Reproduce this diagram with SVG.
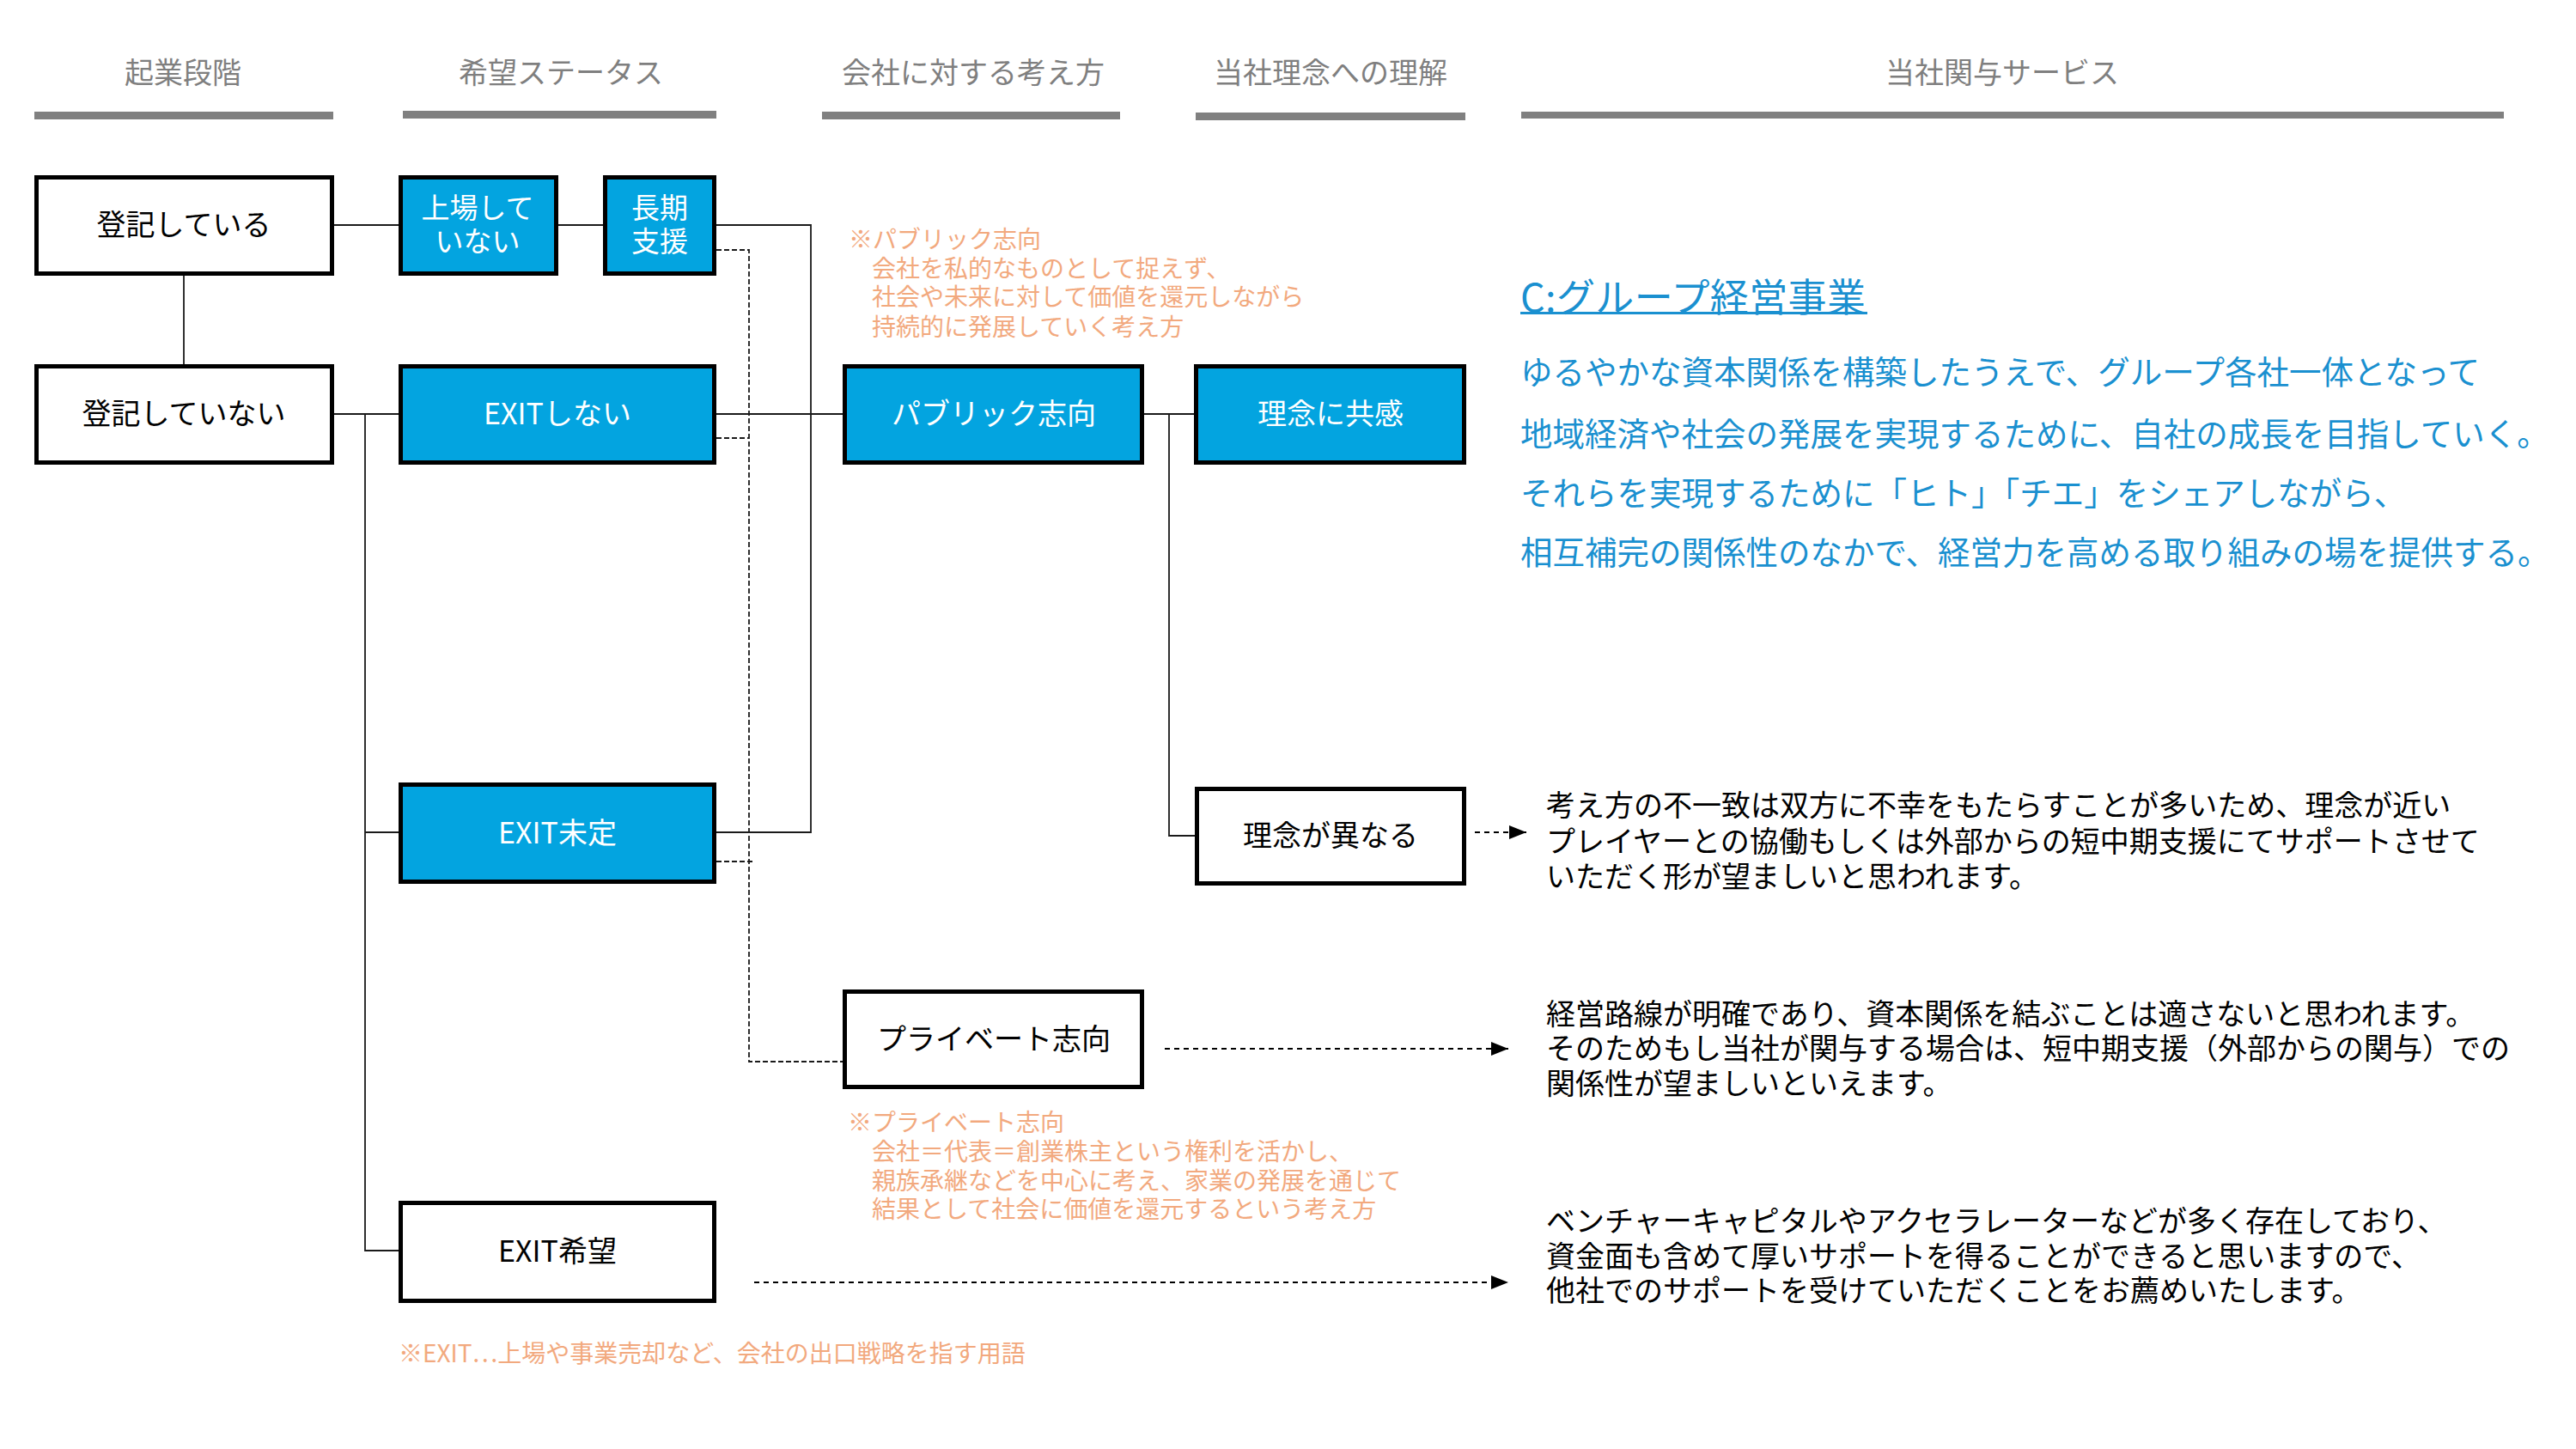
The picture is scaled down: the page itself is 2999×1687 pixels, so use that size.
<svg xmlns="http://www.w3.org/2000/svg" width="2999" height="1687" viewBox="0 0 2999 1687">
<defs>
<style>
text{font-family:"Noto Sans CJK JP","Noto Sans",sans-serif;dominant-baseline:central}
.hd{font-size:34px;fill:#7f7f7f;text-anchor:middle}
.bar{fill:#808080}
.bw{fill:#ffffff;stroke:#000;stroke-width:5}
.bb{fill:#03a4e0;stroke:#000;stroke-width:5}
.lb{font-size:34px;fill:#000;text-anchor:middle}
.lw{font-size:34px;fill:#fff;text-anchor:middle}
.lw2{font-size:33px;fill:#fff;text-anchor:middle}
.sol{fill:none;stroke:#1a1a1a;stroke-width:1.8}
.dsh{fill:none;stroke:#1a1a1a;stroke-width:1.8;stroke-dasharray:6 3}
.arw{fill:none;stroke:#000;stroke-width:2;stroke-dasharray:6 5}
.nt{font-size:28px;fill:#f2a97e}
.bl{font-size:37.5px;fill:#1a90d0}
.tt{font-size:45px;fill:#1a90d0}
.tx{font-size:34px;fill:#000}
.fw{font-feature-settings:"fwid"}
</style>
<marker id="arr" viewBox="0 0 20 16" refX="20" refY="8" markerWidth="20" markerHeight="16" markerUnits="userSpaceOnUse" orient="auto">
<path d="M0,0 L20,8 L0,16 z" fill="#000"/>
</marker>
</defs>
<rect width="2999" height="1687" fill="#ffffff"/>

<g id="headers">
<text class="hd" x="213" y="82">起業段階</text>
<rect class="bar" x="40" y="130" width="348" height="9"/>
<text class="hd" x="653" y="82">希望ステータス</text>
<rect class="bar" x="469" y="129" width="365" height="9"/>
<text class="hd" x="1133" y="82">会社に対する考え方</text>
<rect class="bar" x="957" y="130" width="347" height="9"/>
<text class="hd" x="1549" y="82">当社理念への理解</text>
<rect class="bar" x="1392" y="131" width="314" height="9"/>
<text class="hd" x="2331" y="82">当社関与サービス</text>
<rect class="bar" x="1771" y="130" width="1144" height="8"/>
</g>

<g id="connectors">
<path class="sol" d="M389,262 H464"/>
<path class="sol" d="M649,262 H702"/>
<path class="sol" d="M834,262 H944 V969 H834"/>
<path class="sol" d="M834,482 H981"/>
<path class="sol" d="M214,321 V424"/>
<path class="sol" d="M389,482 H464"/>
<path class="sol" d="M425,482 V1456 H464"/>
<path class="sol" d="M425,969 H464"/>
<path class="sol" d="M1332,482 H1390"/>
<path class="sol" d="M1361,482 V973 H1391"/>
<path class="dsh" d="M834,291 H872 V1236 H981"/>
<path class="dsh" d="M834,510 H872"/>
<path class="dsh" d="M834,1003 H876"/>
<path class="arw" d="M1717,969 H1777" marker-end="url(#arr)"/>
<path class="arw" d="M1356,1221 H1756" marker-end="url(#arr)"/>
<path class="arw" d="M878,1493 H1756" marker-end="url(#arr)"/>
</g>

<g id="n-registered">
<rect class="bw" x="42.5" y="206.5" width="344" height="112"/>
<text class="lb" x="214" y="259">登記している</text>
</g>
<g id="n-unlisted">
<rect class="bb" x="466.5" y="206.5" width="181" height="112"/>
<text class="lw2"><tspan x="556" y="240">上場して</tspan><tspan x="556" y="279">いない</tspan></text>
</g>
<g id="n-longterm">
<rect class="bb" x="704.5" y="206.5" width="127" height="112"/>
<text class="lw2"><tspan x="768" y="240">長期</tspan><tspan x="768" y="279">支援</tspan></text>
</g>
<g id="n-unregistered">
<rect class="bw" x="42.5" y="426.5" width="344" height="112"/>
<text class="lb" x="214" y="479">登記していない</text>
</g>
<g id="n-noexit">
<rect class="bb" x="466.5" y="426.5" width="365" height="112"/>
<text class="lw" x="649" y="479">EXITしない</text>
</g>
<g id="n-public">
<rect class="bb" x="983.5" y="426.5" width="346" height="112"/>
<text class="lw" x="1157" y="479">パブリック志向</text>
</g>
<g id="n-sympathy">
<rect class="bb" x="1392.5" y="426.5" width="312" height="112"/>
<text class="lw" x="1549" y="479">理念に共感</text>
</g>
<g id="n-exitundecided">
<rect class="bb" x="466.5" y="913.5" width="365" height="113"/>
<text class="lw" x="649" y="967">EXIT未定</text>
</g>
<g id="n-differ">
<rect class="bw" x="1393.5" y="918.5" width="311" height="110"/>
<text class="lb" x="1549" y="970">理念が異なる</text>
</g>
<g id="n-private">
<rect class="bw" x="983.5" y="1154.5" width="346" height="111"/>
<text class="lb" x="1157" y="1207">プライベート志向</text>
</g>
<g id="n-exitwish">
<rect class="bw" x="466.5" y="1400.5" width="365" height="114"/>
<text class="lb" x="649" y="1454">EXIT希望</text>
</g>

<g id="note-public">
<text class="nt"><tspan x="988" y="277">※パブリック志向</tspan><tspan x="1015" y="311">会社を私的なものとして捉えず、</tspan><tspan x="1015" y="344">社会や未来に対して価値を還元しながら</tspan><tspan x="1015" y="379">持続的に発展していく考え方</tspan></text>
</g>
<g id="note-private">
<text class="nt"><tspan x="987" y="1305">※プライベート志向</tspan><tspan x="1015" y="1339">会社＝代表＝創業株主という権利を活かし、</tspan><tspan x="1015" y="1373">親族承継などを中心に考え、家業の発展を通じて</tspan><tspan x="1015" y="1406">結果として社会に価値を還元するという考え方</tspan></text>
</g>
<g id="note-exit">
<text class="nt" x="464" y="1574">※EXIT<tspan class="fw">…</tspan>上場や事業売却など、会社の出口戦略を指す用語</text>
</g>

<g id="service-c">
<text class="tt" x="1770" y="343" textLength="402" lengthAdjust="spacing">C:グループ経営事業</text>
<rect x="1770" y="363" width="404" height="3" fill="#1a90d0"/>
<text class="bl"><tspan x="1770" y="430">ゆるやかな資本関係を構築したうえで、グループ各社一体となって</tspan><tspan x="1770" y="502">地域経済や社会の発展を実現するために、自社の成長を目指していく。</tspan><tspan x="1770" y="571">それらを実現するために「ヒト」「チエ」をシェアしながら、</tspan><tspan x="1770" y="640">相互補完の関係性のなかで、経営力を高める取り組みの場を提供する。</tspan></text>
</g>
<g id="text-differ">
<text class="tx"><tspan x="1800" y="935">考え方の不一致は双方に不幸をもたらすことが多いため、理念が近い</tspan><tspan x="1800" y="977">プレイヤーとの協働もしくは外部からの短中期支援にてサポートさせて</tspan><tspan x="1800" y="1018">いただく形が望ましいと思われます。</tspan></text>
</g>
<g id="text-private">
<text class="tx"><tspan x="1800" y="1178">経営路線が明確であり、資本関係を結ぶことは適さないと思われます。</tspan><tspan x="1800" y="1218">そのためもし当社が関与する場合は、短中期支援（外部からの関与）での</tspan><tspan x="1800" y="1259">関係性が望ましいといえます。</tspan></text>
</g>
<g id="text-exit">
<text class="tx"><tspan x="1800" y="1419">ベンチャーキャピタルやアクセラレーターなどが多く存在しており、</tspan><tspan x="1800" y="1460">資金面も含めて厚いサポートを得ることができると思いますので、</tspan><tspan x="1800" y="1500">他社でのサポートを受けていただくことをお薦めいたします。</tspan></text>
</g>
</svg>
